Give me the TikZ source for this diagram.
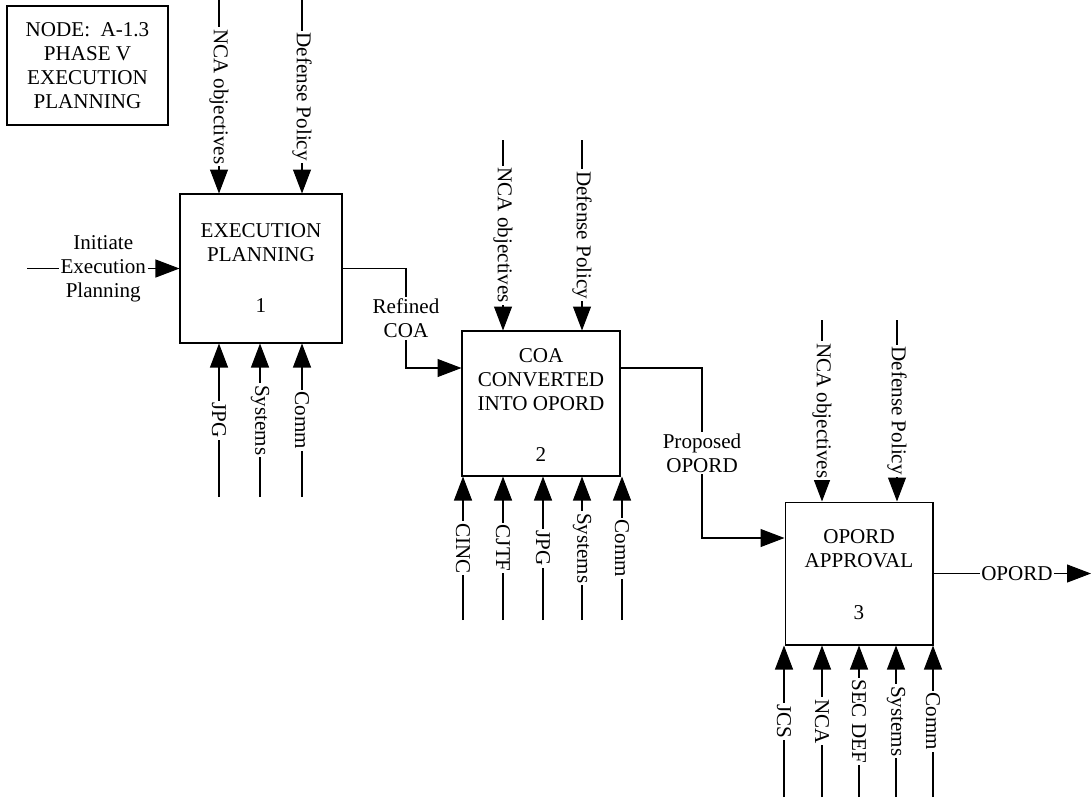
\documentclass[tikz,border=0pt]{standalone}
\usepackage{fontspec}
\setmainfont{Liberation Serif}
\usetikzlibrary{arrows.meta}

\begin{document}
\begin{tikzpicture}[x=0.02cm, y=-0.02cm]
\tikzstyle{every node} = [font=\fontsize{12}{13.7}\selectfont, inner sep=1pt]
\tikzstyle{box} = [draw, line width=0.6pt, inner sep=0, align=center]
\tikzstyle{txt} = [align=center]
\tikzstyle{lbl} = [fill=white, align=center]
\tikzstyle{vlbl} = [fill=white, rotate=-90]
\tikzstyle{edge} = [draw, line width=0.6pt]
\tikzstyle{arredge} = [draw, line width=0.6pt, -{Triangle[length=0.48cm, width=0.36cm]}]
\useasboundingbox (0, 0) rectangle (1091, 802);
\node[box, minimum width=3.22cm, minimum height=2.38cm] (nodebox) at (87.5, 65.5) {NODE:~~A-1.3\\PHASE V\\EXECUTION\\PLANNING};
\node[box, minimum width=3.24cm, minimum height=2.98cm] (exec) at (261, 268.5) {};
\node[box, minimum width=3.16cm, minimum height=2.90cm] (conv) at (541, 403.5) {};
\node[box, minimum width=2.96cm, minimum height=2.86cm] (appr) at (859, 573.5) {};
\node[txt] (exec_t) at (261, 243) {EXECUTION\\PLANNING};
\node[] (exec_n) at (261, 306) {1};
\node[txt] (conv_t) at (541, 380) {COA\\CONVERTED\\INTO OPORD};
\node[] (conv_n) at (541, 455) {2};
\node[txt] (appr_t) at (859, 549) {OPORD\\APPROVAL};
\node[] (appr_n) at (859, 613) {3};
\coordinate (init) at (27, 268.5);
\coordinate (bend1) at (406, 368);
\coordinate (bend2) at (702, 538);
\coordinate (out) at (1091, 573.5);
\coordinate (exec_c1) at (219, 0);
\coordinate (exec_c2) at (302, 0);
\coordinate (exec_m1) at (219, 497);
\coordinate (exec_m2) at (260, 497);
\coordinate (exec_m3) at (302, 497);
\coordinate (conv_c1) at (503, 140);
\coordinate (conv_c2) at (582, 140);
\coordinate (conv_m1) at (463, 620);
\coordinate (conv_m2) at (503, 620);
\coordinate (conv_m3) at (543, 620);
\coordinate (conv_m4) at (582, 620);
\coordinate (conv_m5) at (622, 620);
\coordinate (appr_c1) at (822, 320);
\coordinate (appr_c2) at (897, 320);
\coordinate (appr_m1) at (784, 797);
\coordinate (appr_m2) at (822, 797);
\coordinate (appr_m3) at (859, 797);
\coordinate (appr_m4) at (896, 797);
\coordinate (appr_m5) at (933, 797);
\draw[arredge] (init) -- node[lbl] {Initiate\\Execution\\Planning} (exec.west);
\draw[arredge] (exec.east) -| node[lbl, pos=0.75] {Refined\\COA} (bend1) -- (bend1 -| conv.west);
\draw[arredge] (bend1 -| conv.east) -| node[lbl, pos=0.75] {Proposed\\OPORD} (bend2) -- (bend2 -| appr.west);
\draw[arredge] (appr.east) -- node[lbl, pos=0.53] {OPORD} (out);
\draw[arredge] (exec_c1) -- node[vlbl] {NCA objectives} (exec_c1 |- exec.north);
\draw[arredge] (exec_c2) -- node[vlbl] {Defense Policy} (exec_c2 |- exec.north);
\draw[arredge] (exec_m1) -- node[vlbl] {JPG} (exec_m1 |- exec.south);
\draw[arredge] (exec_m2) -- node[vlbl] {Systems} (exec_m2 |- exec.south);
\draw[arredge] (exec_m3) -- node[vlbl] {Comm} (exec_m3 |- exec.south);
\draw[arredge] (conv_c1) -- node[vlbl] {NCA objectives} (conv_c1 |- conv.north);
\draw[arredge] (conv_c2) -- node[vlbl] {Defense Policy} (conv_c2 |- conv.north);
\draw[arredge] (conv_m1) -- node[vlbl] {CINC} (conv_m1 |- conv.south);
\draw[arredge] (conv_m2) -- node[vlbl] {CJTF} (conv_m2 |- conv.south);
\draw[arredge] (conv_m3) -- node[vlbl] {JPG} (conv_m3 |- conv.south);
\draw[arredge] (conv_m4) -- node[vlbl] {Systems} (conv_m4 |- conv.south);
\draw[arredge] (conv_m5) -- node[vlbl] {Comm} (conv_m5 |- conv.south);
\draw[arredge] (appr_c1) -- node[vlbl] {NCA objectives} (appr_c1 |- appr.north);
\draw[arredge] (appr_c2) -- node[vlbl] {Defense Policy} (appr_c2 |- appr.north);
\draw[arredge] (appr_m1) -- node[vlbl] {JCS} (appr_m1 |- appr.south);
\draw[arredge] (appr_m2) -- node[vlbl] {NCA} (appr_m2 |- appr.south);
\draw[arredge] (appr_m3) -- node[vlbl] {SEC DEF} (appr_m3 |- appr.south);
\draw[arredge] (appr_m4) -- node[vlbl] {Systems} (appr_m4 |- appr.south);
\draw[arredge] (appr_m5) -- node[vlbl] {Comm} (appr_m5 |- appr.south);
\end{tikzpicture}
\end{document}
